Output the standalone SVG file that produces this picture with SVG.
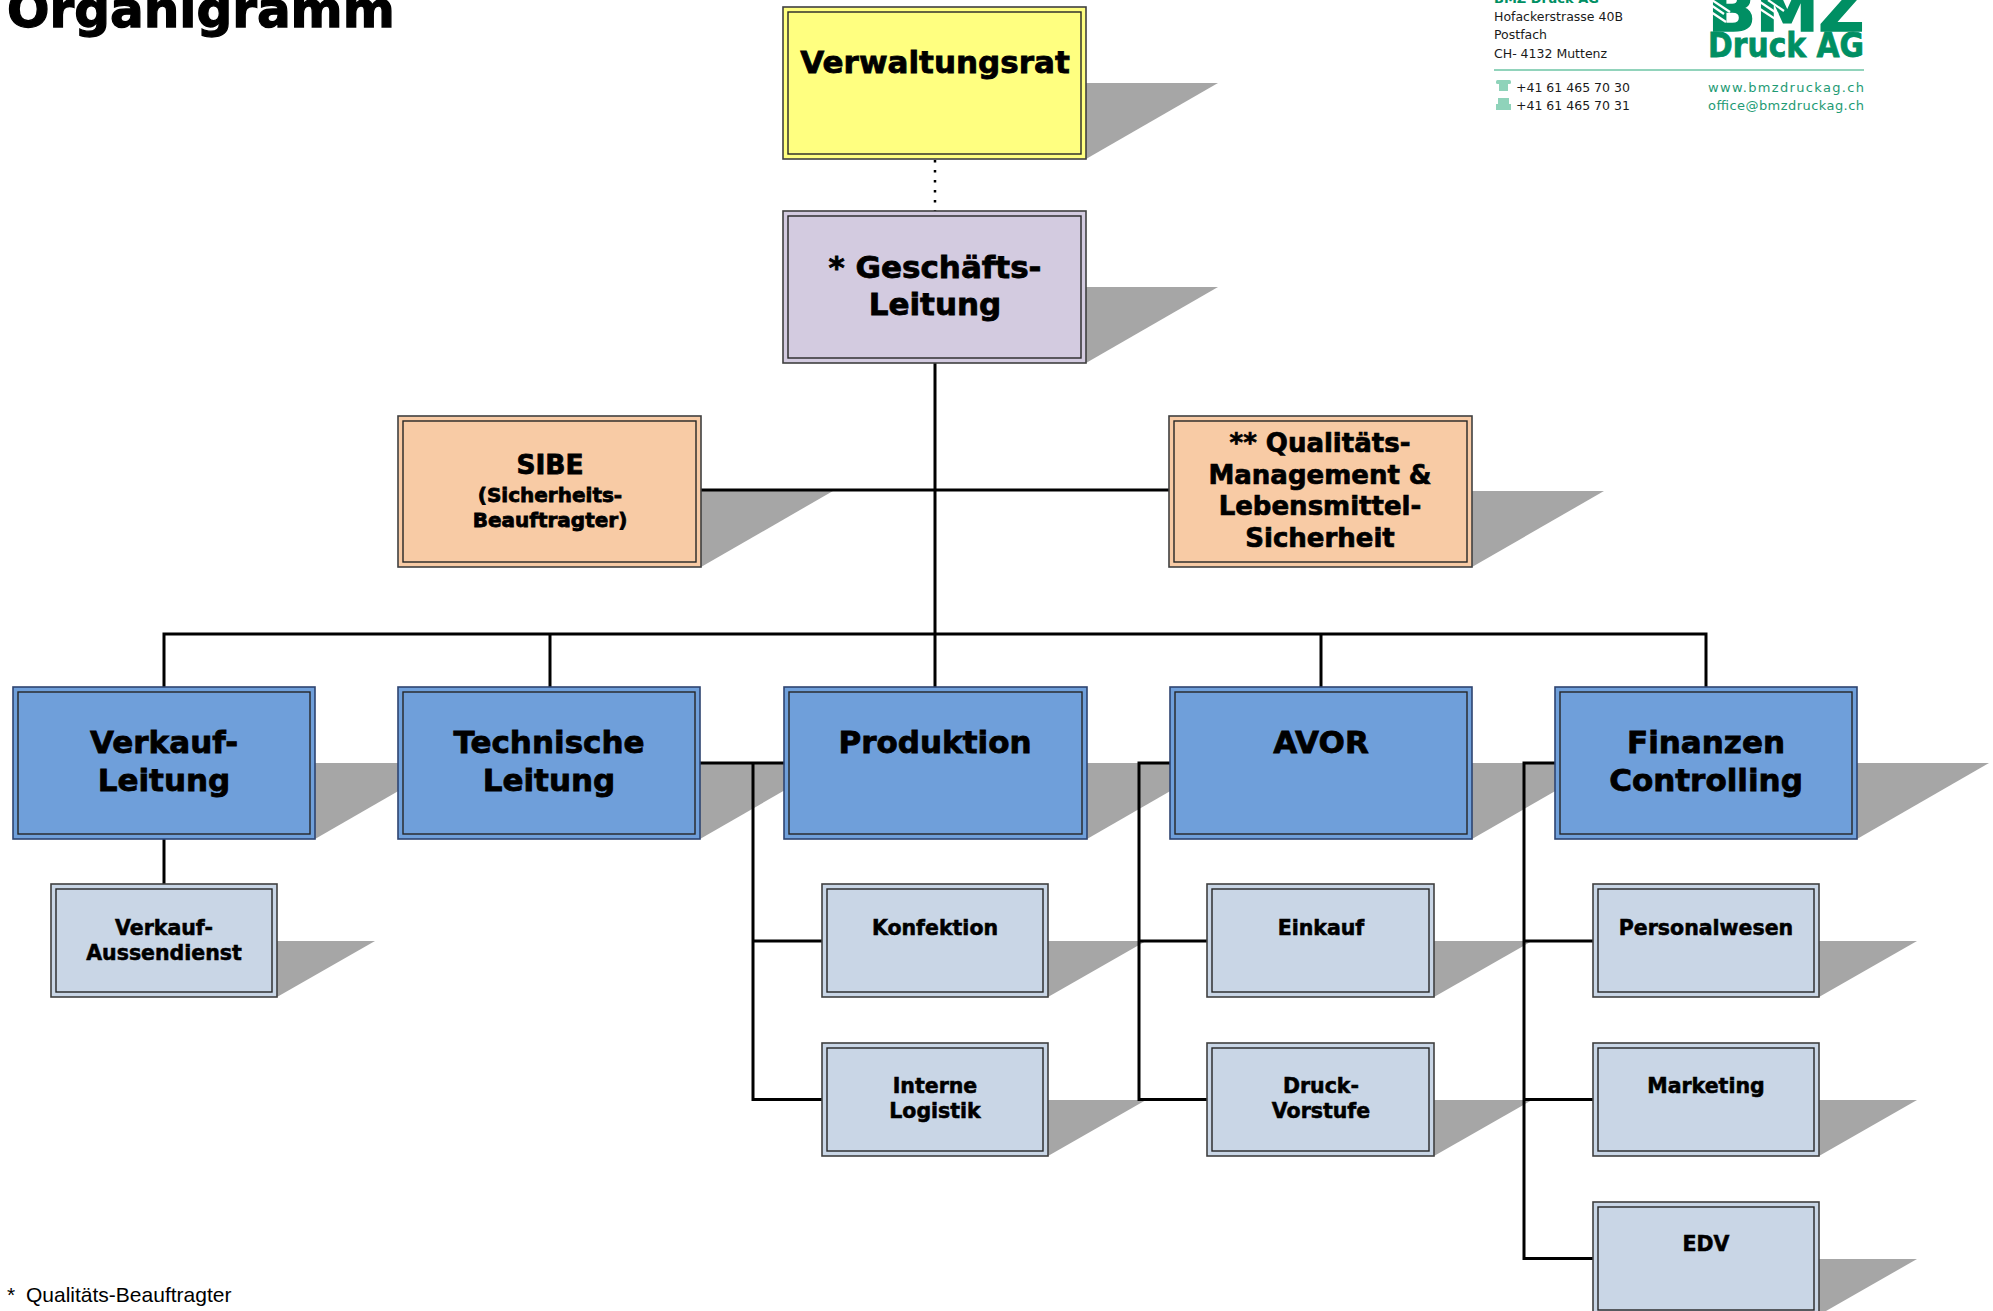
<svg xmlns="http://www.w3.org/2000/svg" width="1993" height="1311" viewBox="0 0 1993 1311">
<style>
.sh{fill:#A6A6A6}
.o{stroke:#404040;stroke-width:1.6}
.i{fill:none;stroke:#262626;stroke-width:1.4}
.yel{fill:#FFFF80}
.lav{fill:#D3CBE0}
.pea{fill:#F8CBA5}
.blu{fill:#6F9FDA}
.blu.o{stroke:#2E4470}
.sub{fill:#C9D6E6}
.t{font-family:"DejaVu Sans","Liberation Sans",sans-serif;font-weight:bold;fill:#000;stroke:#000;stroke-width:0.8;text-anchor:middle}
.big{font-size:31px}
.mid{font-size:26px;stroke-width:0.7}
.sm{font-size:20.5px;stroke-width:0.55}
.con{stroke:#000;stroke-width:3;fill:none}
.addr{font-family:"DejaVu Sans","Liberation Sans",sans-serif;font-size:12.5px;fill:#1a1a1a}
.grn{fill:#008F63}
</style>
<rect width="1993" height="1311" fill="#fff"/>

<!-- title -->
<text x="7" y="27" font-family="DejaVu Sans, Liberation Sans, sans-serif" font-weight="bold" font-size="50" fill="#000" stroke="#000" stroke-width="1.3">Organigramm</text>

<!-- logo / address -->
<g id="logo">
<text x="1494" y="3" font-family="DejaVu Sans, sans-serif" font-weight="bold" font-size="13" class="grn">BMZ Druck AG</text>
<text class="addr" x="1494" y="20.7">Hofackerstrasse 40B</text>
<text class="addr" x="1494" y="38.5">Postfach</text>
<text class="addr" x="1494" y="57.5">CH- 4132 Muttenz</text>
<line x1="1494" y1="70" x2="1864" y2="70" stroke="#6CC4A4" stroke-width="1.5"/>
<g fill="#8FD3BA">
<rect x="1496" y="80" width="15" height="4" rx="1.5"/>
<rect x="1499" y="84" width="9" height="7"/>
<rect x="1498" y="98" width="11" height="6"/>
<rect x="1496" y="104" width="15" height="6"/>
</g>
<text class="addr" x="1516" y="91.7">+41 61 465 70 30</text>
<text class="addr" x="1516" y="110">+41 61 465 70 31</text>
<text x="1708" y="91.7" font-family="DejaVu Sans, sans-serif" font-size="13" fill="#1E9B74" textLength="156" lengthAdjust="spacing">www.bmzdruckag.ch</text>
<text x="1708" y="110" font-family="DejaVu Sans, sans-serif" font-size="13" fill="#1E9B74" textLength="156" lengthAdjust="spacing">office@bmzdruckag.ch</text>
<text x="1708" y="31" font-family="DejaVu Sans, sans-serif" font-weight="bold" font-size="58" class="grn" stroke="#008F63" stroke-width="1.5" textLength="156" lengthAdjust="spacingAndGlyphs">BMZ</text>
<g stroke="#fff" stroke-width="2.2">
<line x1="1708" y1="3" x2="1724" y2="14"/>
<line x1="1708" y1="10" x2="1726" y2="22"/>
<line x1="1712" y1="0" x2="1730" y2="12"/>
<line x1="1760" y1="2" x2="1778" y2="14"/>
<line x1="1760" y1="9" x2="1780" y2="22"/>
<line x1="1768" y1="0" x2="1784" y2="11"/>
<line x1="1818" y1="0" x2="1834" y2="7"/>
<line x1="1818" y1="6" x2="1828" y2="11"/>
</g>
<text x="1708" y="57" font-family="DejaVu Sans, sans-serif" font-weight="bold" font-size="33" class="grn" stroke="#008F63" stroke-width="0.8" textLength="156" lengthAdjust="spacingAndGlyphs">Druck AG</text>
</g>

<!-- shadows -->
<g id="shadows" class="sh">
<polygon points="1086,83 1218,83 1086,159"/>
<polygon points="1086,287 1218,287 1086,363"/>
<polygon points="701,491 833,491 701,567"/>
<polygon points="1472,491 1604,491 1472,567"/>
<polygon points="315,763 447,763 315,839"/>
<polygon points="700,763 832,763 700,839"/>
<polygon points="1087,763 1219,763 1087,839"/>
<polygon points="1472,763 1604,763 1472,839"/>
<polygon points="1857,763 1989,763 1857,839"/>
<polygon points="277,941 375,941 277,997"/>
<polygon points="1048,941 1146,941 1048,997"/>
<polygon points="1048,1100 1146,1100 1048,1156"/>
<polygon points="1434,941 1532,941 1434,997"/>
<polygon points="1434,1100 1532,1100 1434,1156"/>
<polygon points="1819,941 1917,941 1819,997"/>
<polygon points="1819,1100 1917,1100 1819,1156"/>
<polygon points="1819,1259 1917,1259 1819,1315"/>
</g>

<!-- connectors -->
<g id="connectors" class="con">
<line x1="935" y1="160" x2="935" y2="211" stroke-width="2.5" stroke-dasharray="2.5 7.5"/>
<path d="M935 363V687"/>
<path d="M701 490H1169"/>
<path d="M164 687V634H1706V687"/>
<path d="M550 634V687"/>
<path d="M1321 634V687"/>
<path d="M164 839V884"/>
<path d="M700 763H784"/>
<path d="M753 763V1099.5H822M753 941H822"/>
<path d="M1170 763H1139V1099.5H1207M1139 941H1207"/>
<path d="M1555 763H1524V1258.5H1593M1524 941H1593M1524 1099.5H1593"/>
</g>

<!-- nodes -->
<g id="verwaltungsrat">
<rect class="yel o" x="783" y="7" width="303" height="152"/>
<rect class="i" x="788" y="12" width="293" height="142"/>
<text class="t big" x="935" y="73">Verwaltungsrat</text>
</g>
<g id="geschaeftsleitung">
<rect class="lav o" x="783" y="211" width="303" height="152"/>
<rect class="i" x="788" y="216" width="293" height="142"/>
<text class="t big" x="935" y="278">* Geschäfts-</text>
<text class="t big" x="935" y="315">Leitung</text>
</g>
<g id="sibe">
<rect class="pea o" x="398" y="416" width="303" height="151"/>
<rect class="i" x="403" y="421" width="293" height="141"/>
<text class="t" font-size="26.5" x="550" y="474">SIBE</text>
<text class="t" font-size="20" stroke-width="0.55" x="550" y="502">(Sicherheits-</text>
<text class="t" font-size="20" stroke-width="0.55" x="550" y="527">Beauftragter)</text>
</g>
<g id="qualitaet">
<rect class="pea o" x="1169" y="416" width="303" height="151"/>
<rect class="i" x="1174" y="421" width="293" height="141"/>
<text class="t mid" x="1320" y="452">** Qualitäts-</text>
<text class="t mid" x="1320" y="484">Management &amp;</text>
<text class="t mid" x="1320" y="515">Lebensmittel-</text>
<text class="t mid" x="1320" y="547">Sicherheit</text>
</g>

<g id="verkauf-leitung">
<rect class="blu o" x="13" y="687" width="302" height="152"/>
<rect class="i" x="18" y="692" width="292" height="142"/>
<text class="t big" x="164" y="753">Verkauf-</text>
<text class="t big" x="164" y="791">Leitung</text>
</g>
<g id="technische-leitung">
<rect class="blu o" x="398" y="687" width="302" height="152"/>
<rect class="i" x="403" y="692" width="292" height="142"/>
<text class="t big" x="549" y="753">Technische</text>
<text class="t big" x="549" y="791">Leitung</text>
</g>
<g id="produktion">
<rect class="blu o" x="784" y="687" width="303" height="152"/>
<rect class="i" x="789" y="692" width="293" height="142"/>
<text class="t big" x="935" y="753">Produktion</text>
</g>
<g id="avor">
<rect class="blu o" x="1170" y="687" width="302" height="152"/>
<rect class="i" x="1175" y="692" width="292" height="142"/>
<text class="t big" x="1321" y="753">AVOR</text>
</g>
<g id="finanzen">
<rect class="blu o" x="1555" y="687" width="302" height="152"/>
<rect class="i" x="1560" y="692" width="292" height="142"/>
<text class="t big" x="1706" y="753">Finanzen</text>
<text class="t big" x="1706" y="791">Controlling</text>
</g>

<g id="verkauf-aussendienst">
<rect class="sub o" x="51" y="884" width="226" height="113"/>
<rect class="i" x="56" y="889" width="216" height="103"/>
<text class="t sm" x="164" y="935">Verkauf-</text>
<text class="t sm" x="164" y="960">Aussendienst</text>
</g>
<g id="konfektion">
<rect class="sub o" x="822" y="884" width="226" height="113"/>
<rect class="i" x="827" y="889" width="216" height="103"/>
<text class="t sm" x="935" y="935">Konfektion</text>
</g>
<g id="interne-logistik">
<rect class="sub o" x="822" y="1043" width="226" height="113"/>
<rect class="i" x="827" y="1048" width="216" height="103"/>
<text class="t sm" x="935" y="1093">Interne</text>
<text class="t sm" x="935" y="1118">Logistik</text>
</g>
<g id="einkauf">
<rect class="sub o" x="1207" y="884" width="227" height="113"/>
<rect class="i" x="1212" y="889" width="217" height="103"/>
<text class="t sm" x="1321" y="935">Einkauf</text>
</g>
<g id="druck-vorstufe">
<rect class="sub o" x="1207" y="1043" width="227" height="113"/>
<rect class="i" x="1212" y="1048" width="217" height="103"/>
<text class="t sm" x="1321" y="1093">Druck-</text>
<text class="t sm" x="1321" y="1118">Vorstufe</text>
</g>
<g id="personalwesen">
<rect class="sub o" x="1593" y="884" width="226" height="113"/>
<rect class="i" x="1598" y="889" width="216" height="103"/>
<text class="t sm" x="1706" y="935">Personalwesen</text>
</g>
<g id="marketing">
<rect class="sub o" x="1593" y="1043" width="226" height="113"/>
<rect class="i" x="1598" y="1048" width="216" height="103"/>
<text class="t sm" x="1706" y="1093">Marketing</text>
</g>
<g id="edv">
<rect class="sub o" x="1593" y="1202" width="226" height="113"/>
<rect class="i" x="1598" y="1207" width="216" height="103"/>
<text class="t sm" x="1706" y="1251">EDV</text>
</g>

<!-- footnote -->
<text font-family="Liberation Sans, Arial, sans-serif" font-size="21" fill="#000" y="1302"><tspan x="7">*</tspan><tspan x="26">Qualitäts-Beauftragter</tspan></text>
</svg>
